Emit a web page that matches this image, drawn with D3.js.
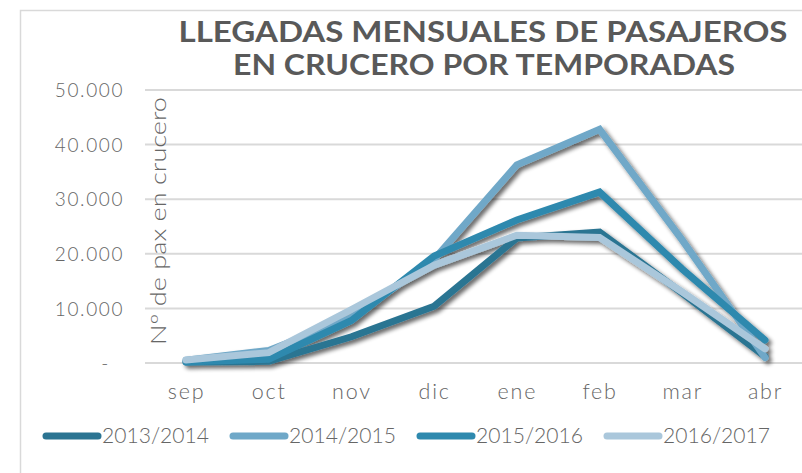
<!DOCTYPE html>
<html><head><meta charset="utf-8">
<script src="https://cdn.jsdelivr.net/npm/d3@7"></script>
<style>body{margin:0;background:#fff}svg{display:block}</style>
</head><body>
<svg id="c" width="802" height="473"></svg>
<script>
const months = ["sep","oct","nov","dic","ene","feb","mar","abr"];
const seriesNames = ["2013/2014","2014/2015","2015/2016","2016/2017"];
const s2013 = [200, 300, 4800, 10400, 22900, 24000, 12800, 1200];
const s2014 = [500, 2300, 8300, 19000, 36300, 42800, 22500, 1000];
const s2015 = [200, 700, 7800, 19600, 26200, 31300, 17200, 4200];
const s2016 = [550, 1900, 9800, 17900, 23400, 23000, 13000, 2600];
const yTicks = [0, 10000, 20000, 30000, 40000, 50000];
const colors = ["#2b7492", "#6fa8c8", "#2e89ae", "#aac7db"];
const allSeries = [s2013, s2014, s2015, s2016];

const svg = d3.select("#c");
const font = "'Lato', 'Open Sans', sans-serif";

const defs = svg.append("defs");
const f = defs.append("filter").attr("id","sh").attr("x","-10%").attr("y","-10%").attr("width","130%").attr("height","130%");
f.append("feGaussianBlur").attr("in","SourceAlpha").attr("stdDeviation",2.2).attr("result","b");
f.append("feOffset").attr("in","b").attr("dx",2.5).attr("dy",3).attr("result","o");
f.append("feComponentTransfer").attr("in","o").attr("result","o2")
  .append("feFuncA").attr("type","linear").attr("slope",0.6);
const m = f.append("feMerge");
m.append("feMergeNode").attr("in","o2");
m.append("feMergeNode").attr("in","SourceGraphic");

// frame
svg.append("rect").attr("x",20.5).attr("y",10.5).attr("width",800).attr("height",480)
  .attr("fill","none").attr("stroke","#d9d9d9").attr("stroke-width",1.5);

const x = d3.scalePoint().domain(months).range([186, 765]);
const y = d3.scaleLinear().domain([0, 50000]).range([363, 90]);

const loc = d3.formatLocale({decimal:",", thousands:".", grouping:[3], currency:["","€"]});
const fmt = v => v === 0 ? "-" : loc.format(",")(v);

// y tick labels
const yAxis = d3.axisLeft(y).tickValues(yTicks).tickFormat(fmt).tickSize(0).tickPadding(0);
const gy = svg.append("g").attr("transform","translate(124,0)").call(yAxis);
gy.select(".domain").remove();
gy.selectAll("text").attr("font-family",font).attr("font-weight",300).attr("font-size",19)
  .attr("letter-spacing",1.6).attr("fill","#666").attr("dy","0.35em");
gy.selectAll("text").filter(d=>d===0).attr("dx",-14);

// grid
svg.append("g").selectAll("line").data(yTicks).join("line")
  .attr("x1",145).attr("x2",802).attr("y1",d=>y(d)).attr("y2",d=>y(d))
  .attr("stroke","#d9d9d9").attr("stroke-width",2);

// x axis labels
const xAxis = d3.axisBottom(x).tickSize(0).tickPadding(0);
const gx = svg.append("g").attr("transform","translate(0,392)").call(xAxis);
gx.select(".domain").remove();
gx.selectAll("text").attr("font-family",font).attr("font-weight",300).attr("font-size",21.5)
  .attr("letter-spacing",1.8).attr("fill","#666").attr("dy","0.32em");

// y label
svg.append("text").attr("transform","translate(166,221) rotate(-90)")
  .attr("text-anchor","middle").attr("font-family",font).attr("font-weight",300)
  .attr("font-size",21.5).attr("fill","#666").attr("textLength",248).attr("lengthAdjust","spacingAndGlyphs")
  .text("Nº de pax en crucero");

// lines
const line = d3.line().x((d,i)=>x(months[i])).y(d=>y(d));
svg.append("g").attr("filter","url(#sh)").selectAll("path").data(allSeries).join("path")
  .attr("d", line).attr("fill","none").attr("stroke",(d,i)=>colors[i])
  .attr("stroke-width",7).attr("stroke-linejoin","miter").attr("stroke-linecap","round");

// title
const tfont = "'Lato', 'Open Sans', sans-serif";
svg.append("text").attr("text-anchor","middle").attr("font-family",tfont)
  .attr("font-weight",700).attr("font-size",29).attr("fill","#595959")
  .attr("x",483).attr("y",42).attr("textLength",609).attr("lengthAdjust","spacingAndGlyphs")
  .text("LLEGADAS MENSUALES DE PASAJEROS");
svg.append("text").attr("text-anchor","middle").attr("font-family",tfont)
  .attr("font-weight",700).attr("font-size",29).attr("fill","#595959")
  .attr("x",484).attr("y",75).attr("textLength",502).attr("lengthAdjust","spacingAndGlyphs")
  .text("EN CRUCERO POR TEMPORADAS");

// legend
const legX = [43, 230, 417, 604];
const lg = svg.append("g").selectAll("g").data(seriesNames).join("g")
  .attr("transform",(d,i)=>`translate(${legX[i]},436)`);
lg.append("line").attr("x1",3).attr("x2",55).attr("y1",0).attr("y2",0)
  .attr("stroke",(d,i)=>colors[i]).attr("stroke-width",7).attr("stroke-linecap","round");
lg.append("text").attr("x",59).attr("y",0).attr("dy","0.35em").attr("font-family",font)
  .attr("font-weight",300).attr("font-size",21).attr("fill","#666").attr("textLength",107)
  .attr("lengthAdjust","spacingAndGlyphs").text(d=>d);
</script>
</body></html>
